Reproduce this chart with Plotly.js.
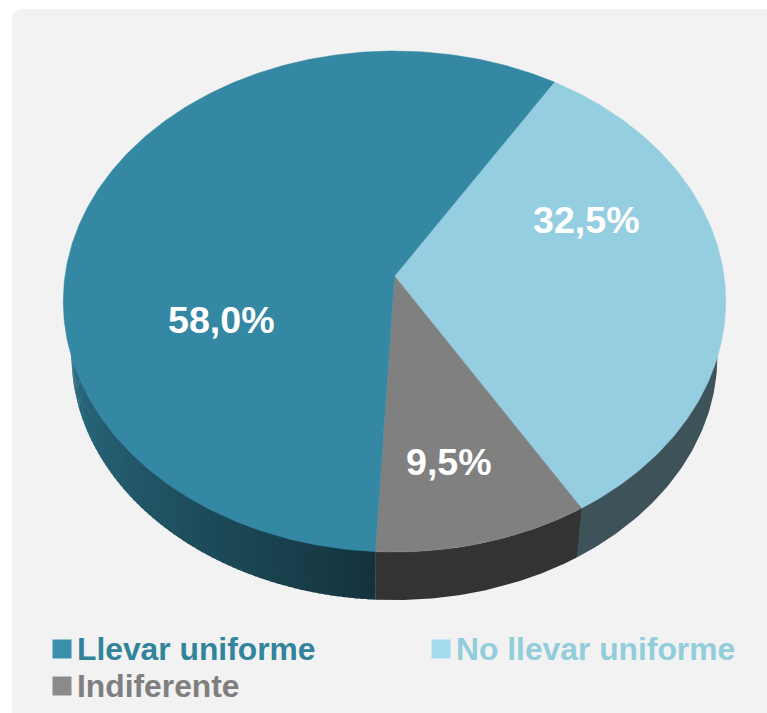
<!DOCTYPE html>
<html>
<head>
<meta charset="utf-8">
<script src="https://cdn.plot.ly/plotly-3.0.1.min.js"></script>
<style>html,body{margin:0;padding:0;background:#fff;overflow:hidden}#chart{width:767px;height:713px}</style>
</head>
<body>
<div id="chart"></div>
<script>
const categories = ["No llevar uniforme", "Indiferente", "Llevar uniforme"];
const shares = [32.5, 9.5, 58.0];
const shareLabels = ["32,5%", "9,5%", "58,0%"];
const topColors = ["#95cee1", "#808080", "#3488a3"];
const wallColors = ["#3d5359", "#333333", "#2b6d83"];
const legendNames = ["Llevar uniforme", "No llevar uniforme", "Indiferente"];
const legendSwatches = ["#3a90ab", "#a3dbee", "#8a8a8a"];
const legendText = ["#31849b", "#92cddc", "#7f7f7f"];

const startAngle = 31.8;
const cx = 394.5, cy = 276, a = 329.5, b = 247.9, k = -0.1018;
const wallScale = 0.975, wallShift = 55;

function project(deg, scale, shift, r) {
  const t = deg * Math.PI / 180, ux = r * Math.sin(t), uy = -r * Math.cos(t);
  const w = 1 + k * uy;
  return [cx + scale * a * ux / w, cy + shift + scale * b * uy / w];
}
function arc(from, to, scale, shift, r) {
  const n = Math.max(2, Math.ceil(Math.abs(to - from) / 0.75)), pts = [];
  for (let i = 0; i <= n; i++) pts.push(project(from + (to - from) * i / n, scale, shift, r === undefined ? 1 : r));
  return pts;
}
function hexMix(c1, c2, f) {
  const p = c => [1, 3, 5].map(i => parseInt(c.substr(i, 2), 16));
  const A = p(c1), B = p(c2);
  return "rgb(" + A.map((v, i) => Math.round(v + (B[i] - v) * f)).join(",") + ")";
}
function polygon(pts, color, lineWidth, extra) {
  return Object.assign({
    type: "scatter", mode: "lines", x: pts.map(p => p[0]), y: pts.map(p => p[1]),
    fill: "toself", fillcolor: color, line: {color: color, width: lineWidth},
    hoverinfo: "skip", showlegend: false
  }, extra || {});
}

const traces = [];
const bounds = [];
let ang = startAngle;
shares.forEach(v => { bounds.push([ang, ang + v * 3.6]); ang += v * 3.6; });

// side wall
const rimInset = 0.985;
bounds.forEach((bd, i) => {
  const [s, e] = bd;
  if (i < 2) {
    const up = arc(s, e, 1, 0, i === 1 ? 1 : rimInset), lo = arc(s, e, wallScale, wallShift).reverse();
    traces.push(polygon(up.concat(lo), wallColors[i], 0));
  } else {
    const stepDeg = 1;
    for (let d = s; d < Math.min(e, 285); d += stepDeg) {
      const f = Math.min(1, (d - s) / 78);
      const c = hexMix("#13323c", wallColors[2], Math.pow(f, 0.85));
      const up = arc(d, d + stepDeg + 0.4, 1, 0, rimInset), lo = arc(d, d + stepDeg + 0.4, wallScale, wallShift).reverse();
      traces.push(polygon(up.concat(lo), c, 0));
    }
  }
});

// top face
bounds.forEach((bd, i) => {
  const pts = [[cx, cy]].concat(arc(bd[0], bd[1], 1, 0), [[cx, cy]]);
  traces.push(polygon(pts, topColors[i], 0.5, {
    hoverinfo: "text", hoveron: "fills",
    text: categories[i] + ": " + shareLabels[i], name: categories[i]
  }));
});

// legend swatches
traces.push({
  type: "scatter", mode: "markers",
  x: [62, 441, 62], y: [649, 649, 686],
  marker: {symbol: "square", size: 19, color: legendSwatches, line: {width: 0}},
  hoverinfo: "skip", showlegend: false
});

const labelPos = [[586, 220], [449, 462], [221, 320]];
const annotations = shareLabels.map((t, i) => ({
  x: labelPos[i][0], y: labelPos[i][1], xref: "x", yref: "y", text: "<b>" + t + "</b>",
  showarrow: false, xanchor: "center", yanchor: "middle",
  font: {family: "Liberation Sans, Arial, sans-serif", size: 37.6, color: "#ffffff"}
}));
const legendPos = [[77, 649], [456, 649], [77, 686]];
legendNames.forEach((t, i) => annotations.push({
  x: legendPos[i][0], y: legendPos[i][1], xref: "x", yref: "y", text: "<b>" + t + "</b>",
  showarrow: false, xanchor: "left", yanchor: "middle", xshift: -2,
  font: {family: "Liberation Sans, Arial, sans-serif", size: 31.8, color: legendText[i]}
}));

const layout = {
  width: 767, height: 713, margin: {l: 0, r: 0, t: 0, b: 0},
  paper_bgcolor: "#ffffff", plot_bgcolor: "#ffffff", showlegend: false,
  xaxis: {range: [0, 767], visible: false, fixedrange: true},
  yaxis: {range: [713, 0], visible: false, fixedrange: true},
  shapes: [{
    type: "path", xref: "x", yref: "y", layer: "below",
    path: "M 12 19 Q 12 9 22 9 L 780 9 L 780 720 L 12 720 Z",
    fillcolor: "#f2f2f2", line: {width: 0}
  }],
  annotations: annotations
};
Plotly.newPlot("chart", traces, layout, {displayModeBar: false, responsive: false});
</script>
</body>
</html>
